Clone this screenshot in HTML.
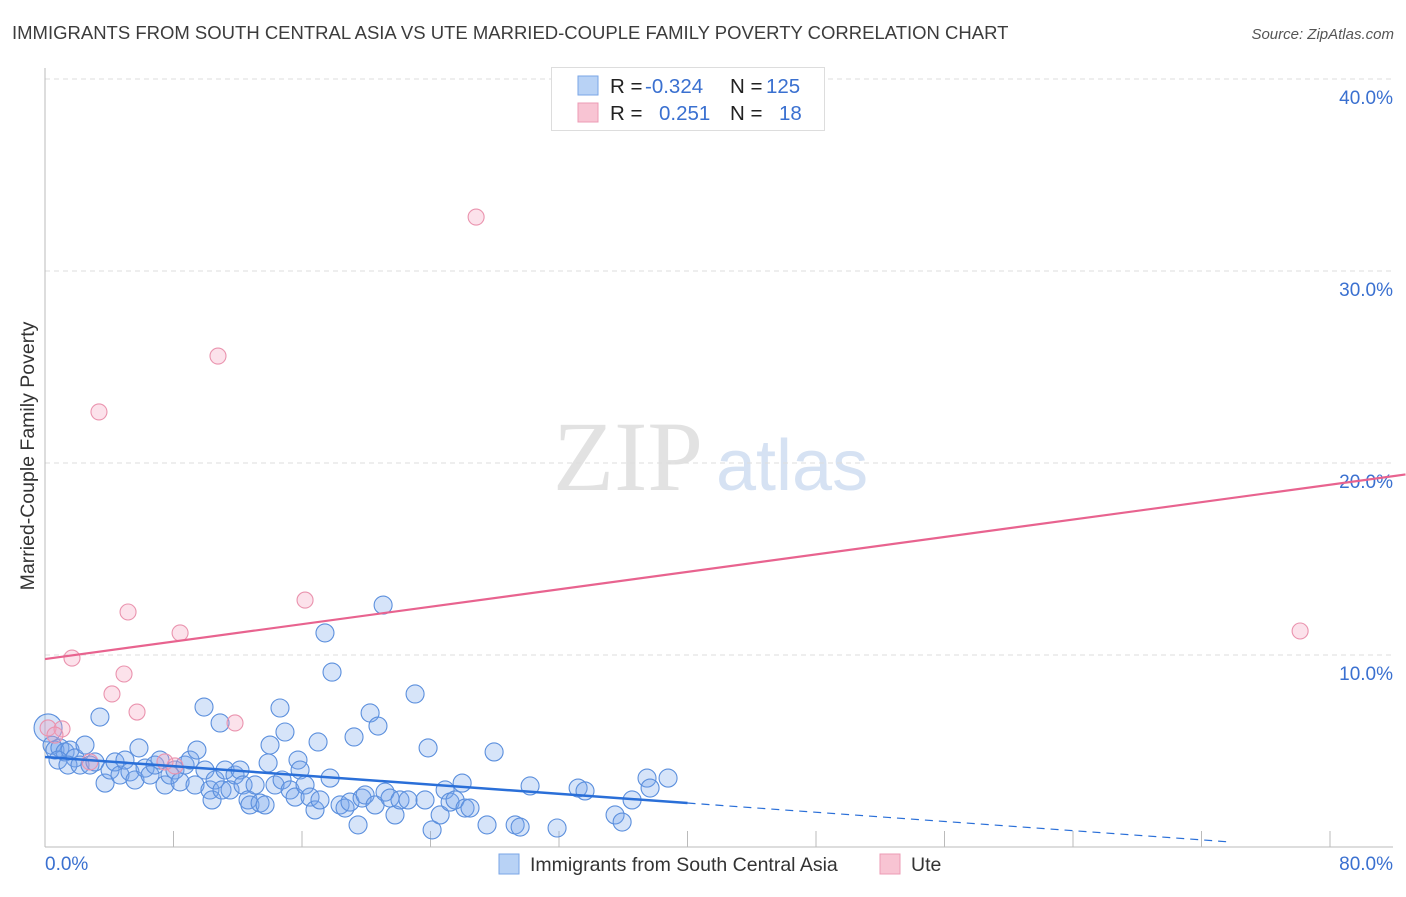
<!DOCTYPE html>
<html><head><meta charset="utf-8"><style>
body{margin:0;background:#fff;width:1406px;height:892px;overflow:hidden;font-family:"Liberation Sans",sans-serif}
</style></head><body>
<svg width="1406" height="892" xmlns="http://www.w3.org/2000/svg">
<text x="12" y="39" font-size="18.5" fill="#3c3c3c">IMMIGRANTS FROM SOUTH CENTRAL ASIA VS UTE MARRIED-COUPLE FAMILY POVERTY CORRELATION CHART</text>
<text x="1394" y="39" font-size="15" fill="#555" font-style="italic" text-anchor="end">Source: ZipAtlas.com</text>
<g>
<text x="553" y="490" font-family="Liberation Serif,serif" font-size="100" fill="#e2e2e2">ZIP</text>
<text x="716" y="490" font-size="72" fill="#d6e2f3">atlas</text>
</g>
<g id="grid"></g>
<g id="axes"></g>
<text x="34" y="456" font-size="19.5" fill="#333" text-anchor="middle" transform="rotate(-90 34 456)">Married-Couple Family Poverty</text>
<g id="marks"></g>
<g>
<rect x="551.5" y="67.5" width="273" height="63" fill="#fff" stroke="#ddd"/>
<rect x="578" y="76" width="20" height="19" fill="#b8d2f5" stroke="#7aa6e6"/>
<rect x="578" y="103" width="20" height="19" fill="#f8c4d3" stroke="#ec9bb4"/>
<text font-size="20.5" fill="#222"><tspan x="610" y="93">R = </tspan><tspan x="610" y="120">R = </tspan><tspan x="730" y="93">N = </tspan><tspan x="730" y="120">N = </tspan></text>
<text font-size="20.5" fill="#3a70d0"><tspan x="645" y="93">-0.324</tspan><tspan x="659" y="120">0.251</tspan><tspan x="766" y="93">125</tspan><tspan x="779" y="120">18</tspan></text>
</g>
<g>
<rect x="499" y="854" width="20" height="20" fill="#b8d2f5" stroke="#7aa6e6"/>
<text x="530" y="871" font-size="19.5" fill="#333">Immigrants from South Central Asia</text>
<rect x="880" y="854" width="20" height="20" fill="#f8c4d3" stroke="#ec9bb4"/>
<text x="911" y="871" font-size="19.5" fill="#333">Ute</text>
</g>
</svg>
<script>
const yTicks=[10,20,30,40];
const yTickLabels=["10.0%","20.0%","30.0%","40.0%"];
const xTickCount=10;
const blueX=[0.19,0.44,0.62,0.93,1.25,1.56,0.81,1.87,2.49,1.43,2.18,2.8,3.42,3.11,3.74,4.05,4.36,4.67,4.98,5.29,5.6,5.85,6.23,6.54,6.85,7.16,7.47,7.78,8.09,8.41,8.72,9.03,9.34,9.46,9.9,9.96,10.27,10.4,10.59,10.9,11.02,11.21,11.52,11.83,12.14,12.33,12.64,12.76,13.08,13.39,13.7,13.89,14.01,14.32,14.63,14.76,14.94,15.26,15.57,15.75,15.88,16.19,16.5,16.81,17.0,17.12,17.43,17.75,17.87,18.37,18.68,18.99,19.24,19.49,19.74,19.93,20.24,20.55,20.73,21.05,21.17,21.48,21.79,22.1,22.6,23.04,23.66,23.85,24.1,24.6,24.91,25.22,25.53,25.97,26.15,26.46,27.52,27.96,29.27,29.58,30.2,31.88,33.19,33.62,35.49,35.93,36.55,37.48,37.67,38.79];
const blueY=[6.2,5.3,5.05,5.16,4.95,5.05,4.53,4.64,5.31,4.27,4.27,4.27,6.77,4.43,3.33,4.01,4.43,3.75,4.53,3.91,3.49,5.16,4.11,3.75,4.27,4.53,3.23,3.75,4.01,3.39,4.27,4.53,3.23,5.05,7.29,4.01,2.97,2.45,3.49,6.46,2.97,4.01,2.97,3.75,4.01,3.23,2.45,2.19,3.23,2.29,2.19,4.38,5.31,3.23,7.24,3.49,5.99,2.97,2.6,4.53,4.01,3.23,2.6,1.93,5.47,2.45,11.15,3.59,9.11,2.19,2.03,2.34,5.73,1.15,2.55,2.71,6.98,2.19,6.3,12.6,2.86,2.55,1.67,2.45,2.45,7.97,2.45,5.16,0.89,1.67,2.97,2.34,2.45,3.33,2.03,2.03,1.15,4.95,1.15,1.04,3.18,0.99,3.07,2.92,1.67,1.3,2.45,3.59,3.07,3.59];
const pinkX=[0.19,1.06,1.68,3.36,4.17,4.92,5.17,5.73,8.09,8.41,10.77,11.83,16.19,26.84,78.14,2.8,7.47,0.62];
const pinkY=[6.2,6.15,9.84,22.66,7.97,9.01,12.24,7.03,4.22,11.15,25.57,6.46,12.86,32.81,11.25,4.43,4.43,5.83];
const blueTrend=[4.69,-0.06];
const pinkTrend=[9.79,0.1135];
const NS="http://www.w3.org/2000/svg";
const X=v=>45+v*16.0625, Y=v=>847-v*19.2;
function mk(tag,attrs,parent){const e=document.createElementNS(NS,tag);for(const k in attrs)e.setAttribute(k,attrs[k]);parent.appendChild(e);return e;}
const grid=document.getElementById('grid'),axes=document.getElementById('axes'),marks=document.getElementById('marks');
yTicks.forEach((t,i)=>{
 const l=mk('line',{x1:45,x2:1393,y1:Y(t),y2:Y(t),stroke:'#ddd','stroke-dasharray':'5,4'},grid);
 
 
 const tx=mk('text',{x:1393,y:Y(t)+25,'font-size':19,fill:'#3a70d0','text-anchor':'end'},grid);
 tx.textContent=yTickLabels[i];
 
 
});
mk('line',{x1:45,x2:45,y1:68,y2:847,stroke:'#bbb'},axes);
mk('line',{x1:45,x2:1393,y1:847,y2:847,stroke:'#bbb'},axes);
for(let i=1;i<=xTickCount;i++){const x=X(i*8);const t=mk('line',{x1:x,x2:x,y1:831,y2:847,stroke:'#bbb'},axes);
 
 }
const x0=mk('text',{x:45,y:870,'font-size':19,fill:'#3a70d0'},axes);x0.textContent='0.0%';


const x1=mk('text',{x:1393,y:870,'font-size':19,fill:'#3a70d0','text-anchor':'end'},axes);x1.textContent='80.0%';


blueX.forEach((v,i)=>{const c=mk('circle',{cx:X(v),cy:Y(blueY[i]),r:i===0?14:9,fill:'rgba(120,165,235,0.3)',stroke:'#5b8fdd','stroke-width':1.1},marks);
 
 });
pinkX.forEach((v,i)=>{const c=mk('circle',{cx:X(v),cy:Y(pinkY[i]),r:8,fill:'rgba(245,160,190,0.3)',stroke:'#ea93ae','stroke-width':1.1},marks);
 
 });
const bt=v=>blueTrend[0]+blueTrend[1]*v, pt=v=>pinkTrend[0]+pinkTrend[1]*v;
const b1=mk('line',{x1:X(0),y1:Y(bt(0)),x2:X(40),y2:Y(bt(40)),stroke:'#2a6fd8','stroke-width':2.5},marks);


const b2=mk('line',{x1:X(40),y1:Y(bt(40)),x2:X(73.8),y2:Y(bt(73.8)),stroke:'#2a6fd8','stroke-width':1.2,'stroke-dasharray':'8,6'},marks);


const p1=mk('line',{x1:X(0),y1:Y(pt(0)),x2:X(84.7),y2:Y(pt(84.7)),stroke:'#e8638f','stroke-width':2.2},marks);


</script>
</body></html>
